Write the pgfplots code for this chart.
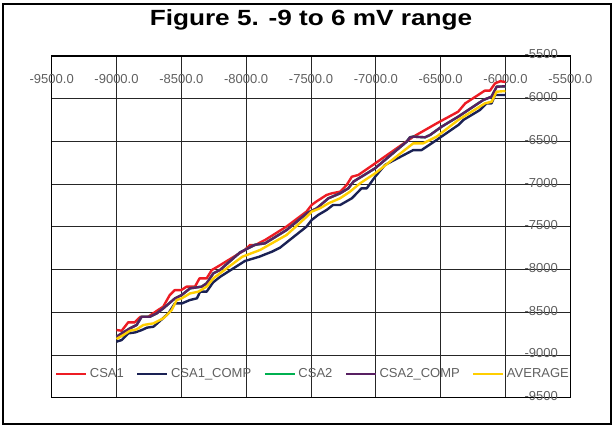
\documentclass[border=0pt]{standalone}
\usepackage{graphicx}
\usepackage{pgfplots}
\pgfplotsset{compat=1.18}
\usepackage{fontspec}
\setmainfont{Liberation Sans}

\definecolor{csaone}{RGB}{237,28,36}
\definecolor{csaonecomp}{RGB}{26,33,84}
\definecolor{csatwo}{RGB}{0,176,80}
\definecolor{csatwocomp}{RGB}{88,32,98}
\definecolor{avg}{RGB}{255,206,0}
\definecolor{labgray}{RGB}{96,96,96}

\begin{document}
\begin{tikzpicture}
\begin{axis}[
    set layers,
    scale only axis,
    width=518.6pt, height=341.7pt,
    xmin=-9500, xmax=-5500,
    ymin=-9500, ymax=-5500,
    xtick={-9500,-9000,...,-5500},
    ytick={-9500,-9000,...,-5500},
    scaled ticks=false,
    grid=major,
    major grid style={black!85, line width=0.8pt},
    axis line style={black, line width=1.2pt},
    major tick length=0pt,
    tick label style={/pgf/number format/assume math mode=true,
        font=\fontsize{13}{15}\selectfont, text=labgray},
    xticklabel pos=upper,
    xticklabel style={anchor=center, yshift=-23pt,
        /pgf/number format/fixed, /pgf/number format/fixed zerofill,
        /pgf/number format/precision=1, /pgf/number format/1000 sep={}},
    yticklabel pos=right,
    yticklabel style={anchor=east, inner sep=0pt, xshift=-12.3pt, yshift=1.5pt,
        /pgf/number format/1000 sep={}},
    legend columns=5,
    legend cell align=left,
    legend image code/.code={\draw[#1, line width=2.2pt] (0pt,0pt) -- (30pt,0pt);},
    legend style={draw=none, fill=none, at={(0,0.0694)}, anchor=west,
        xshift=3.3pt, inner sep=0pt, nodes={inner sep=0pt},
        font=\fontsize{13}{15}\selectfont, text=labgray,
        /tikz/every odd column/.append style={column sep=2.5pt},
        /tikz/every even column/.append style={column sep=12.5pt}},
    every axis plot/.append style={line width=2.4pt, line join=round},
]
% CSA1
\addplot[csaone] coordinates {
(-9000,-8708) (-8960,-8716) (-8910,-8618) (-8860,-8618) (-8815,-8552)
(-8755,-8552) (-8680,-8474) (-8640,-8435) (-8590,-8300) (-8550,-8240)
(-8500,-8240) (-8460,-8200) (-8395,-8200) (-8360,-8103) (-8305,-8103)
(-8265,-8005) (-8220,-7966) (-8010,-7771) (-7970,-7712) (-7930,-7713)
(-7850,-7650) (-7690,-7498) (-7535,-7322) (-7495,-7244) (-7460,-7205)
(-7380,-7127) (-7340,-7108) (-7275,-7088) (-7225,-7010) (-7185,-6913)
(-7135,-6893) (-7005,-6757) (-6710,-6444) (-6530,-6288) (-6365,-6152)
(-6310,-6054) (-6160,-5906) (-6120,-5906) (-6080,-5820) (-6040,-5795)
(-6000,-5805)
};
% CSA1_COMP
\addplot[csaonecomp] coordinates {
(-9000,-8844) (-8960,-8825) (-8910,-8747) (-8855,-8735) (-8805,-8708)
(-8765,-8680) (-8715,-8669) (-8665,-8602) (-8600,-8513) (-8550,-8396)
(-8495,-8396) (-8435,-8357) (-8380,-8337) (-8355,-8259) (-8305,-8259)
(-8255,-8150) (-8200,-8084) (-8010,-7900) (-7900,-7850) (-7800,-7790)
(-7740,-7745) (-7535,-7498) (-7495,-7420) (-7445,-7361) (-7380,-7303)
(-7330,-7244) (-7275,-7244) (-7185,-7166) (-7110,-7049) (-7070,-7049)
(-7005,-6913) (-6930,-6776) (-6711,-6601) (-6647,-6601) (-6531,-6483)
(-6364,-6308) (-6325,-6249) (-6197,-6132) (-6145,-6054) (-6107,-6054)
(-6081,-5957) (-6000,-5957)
};
% CSA2
\addplot[csatwo] coordinates {
(-9000,-8786) (-8947,-8735) (-8896,-8688) (-8845,-8649) (-8806,-8552)
(-8741,-8552) (-8690,-8513) (-8639,-8454) (-8549,-8337) (-8497,-8298)
(-8433,-8220) (-8343,-8200) (-8305,-8161) (-8253,-8044) (-8202,-8005)
(-8048,-7800) (-7970,-7740) (-7932,-7710) (-7855,-7693) (-7688,-7537)
(-7533,-7342) (-7456,-7283) (-7366,-7166) (-7276,-7108) (-7212,-7049)
(-7173,-6971) (-7006,-6815) (-6762,-6503) (-6737,-6452) (-6711,-6444)
(-6621,-6452) (-6582,-6425) (-6492,-6327) (-6364,-6210) (-6171,-6015)
(-6107,-5976) (-6068,-5859) (-6000,-5855)
};
% CSA2_COMP
\addplot[csatwocomp] coordinates {
(-9000,-8786) (-8947,-8735) (-8896,-8688) (-8845,-8649) (-8806,-8552)
(-8741,-8552) (-8690,-8513) (-8639,-8454) (-8549,-8337) (-8497,-8298)
(-8433,-8220) (-8343,-8200) (-8305,-8161) (-8253,-8044) (-8202,-8005)
(-8048,-7800) (-7970,-7740) (-7932,-7710) (-7855,-7693) (-7688,-7537)
(-7533,-7342) (-7456,-7283) (-7366,-7166) (-7276,-7108) (-7212,-7049)
(-7173,-6971) (-7006,-6815) (-6762,-6503) (-6737,-6452) (-6711,-6444)
(-6621,-6452) (-6582,-6425) (-6492,-6327) (-6364,-6210) (-6171,-6015)
(-6107,-5976) (-6068,-5859) (-6000,-5855)
};
% AVERAGE
\addplot[avg] coordinates {
(-9000,-8813) (-8947,-8766) (-8896,-8716) (-8845,-8700) (-8793,-8649)
(-8716,-8630) (-8639,-8571) (-8574,-8474) (-8536,-8357) (-8497,-8337)
(-8433,-8279) (-8369,-8259) (-8305,-8200) (-8253,-8103) (-8202,-8044)
(-8030,-7850) (-7893,-7771) (-7688,-7595) (-7533,-7381) (-7495,-7322)
(-7431,-7283) (-7366,-7225) (-7276,-7166) (-7199,-7088) (-7122,-6991)
(-7006,-6874) (-6711,-6522) (-6634,-6522) (-6531,-6444) (-6364,-6249)
(-6158,-6054) (-6107,-6035) (-6068,-5918) (-6000,-5910)
};
\legend{CSA1, CSA1\_COMP, CSA2, CSA2\_COMP, AVERAGE}
\end{axis}
\node[font=\fontsize{22}{26}\selectfont\bfseries, anchor=base, inner sep=0pt]
    at ([yshift=30pt]current axis.north) {\scalebox{1.19}[1]{Figure 5. -9 to 6 mV range}};
\draw[line width=1.3pt] ([shift={(-48.7pt,-26.3pt)}]current axis.south west)
    rectangle ++(608pt,420pt);
\useasboundingbox ([shift={(-51.7pt,-28.3pt)}]current axis.south west)
    rectangle ++(614pt,426pt);
\end{tikzpicture}
\end{document}
